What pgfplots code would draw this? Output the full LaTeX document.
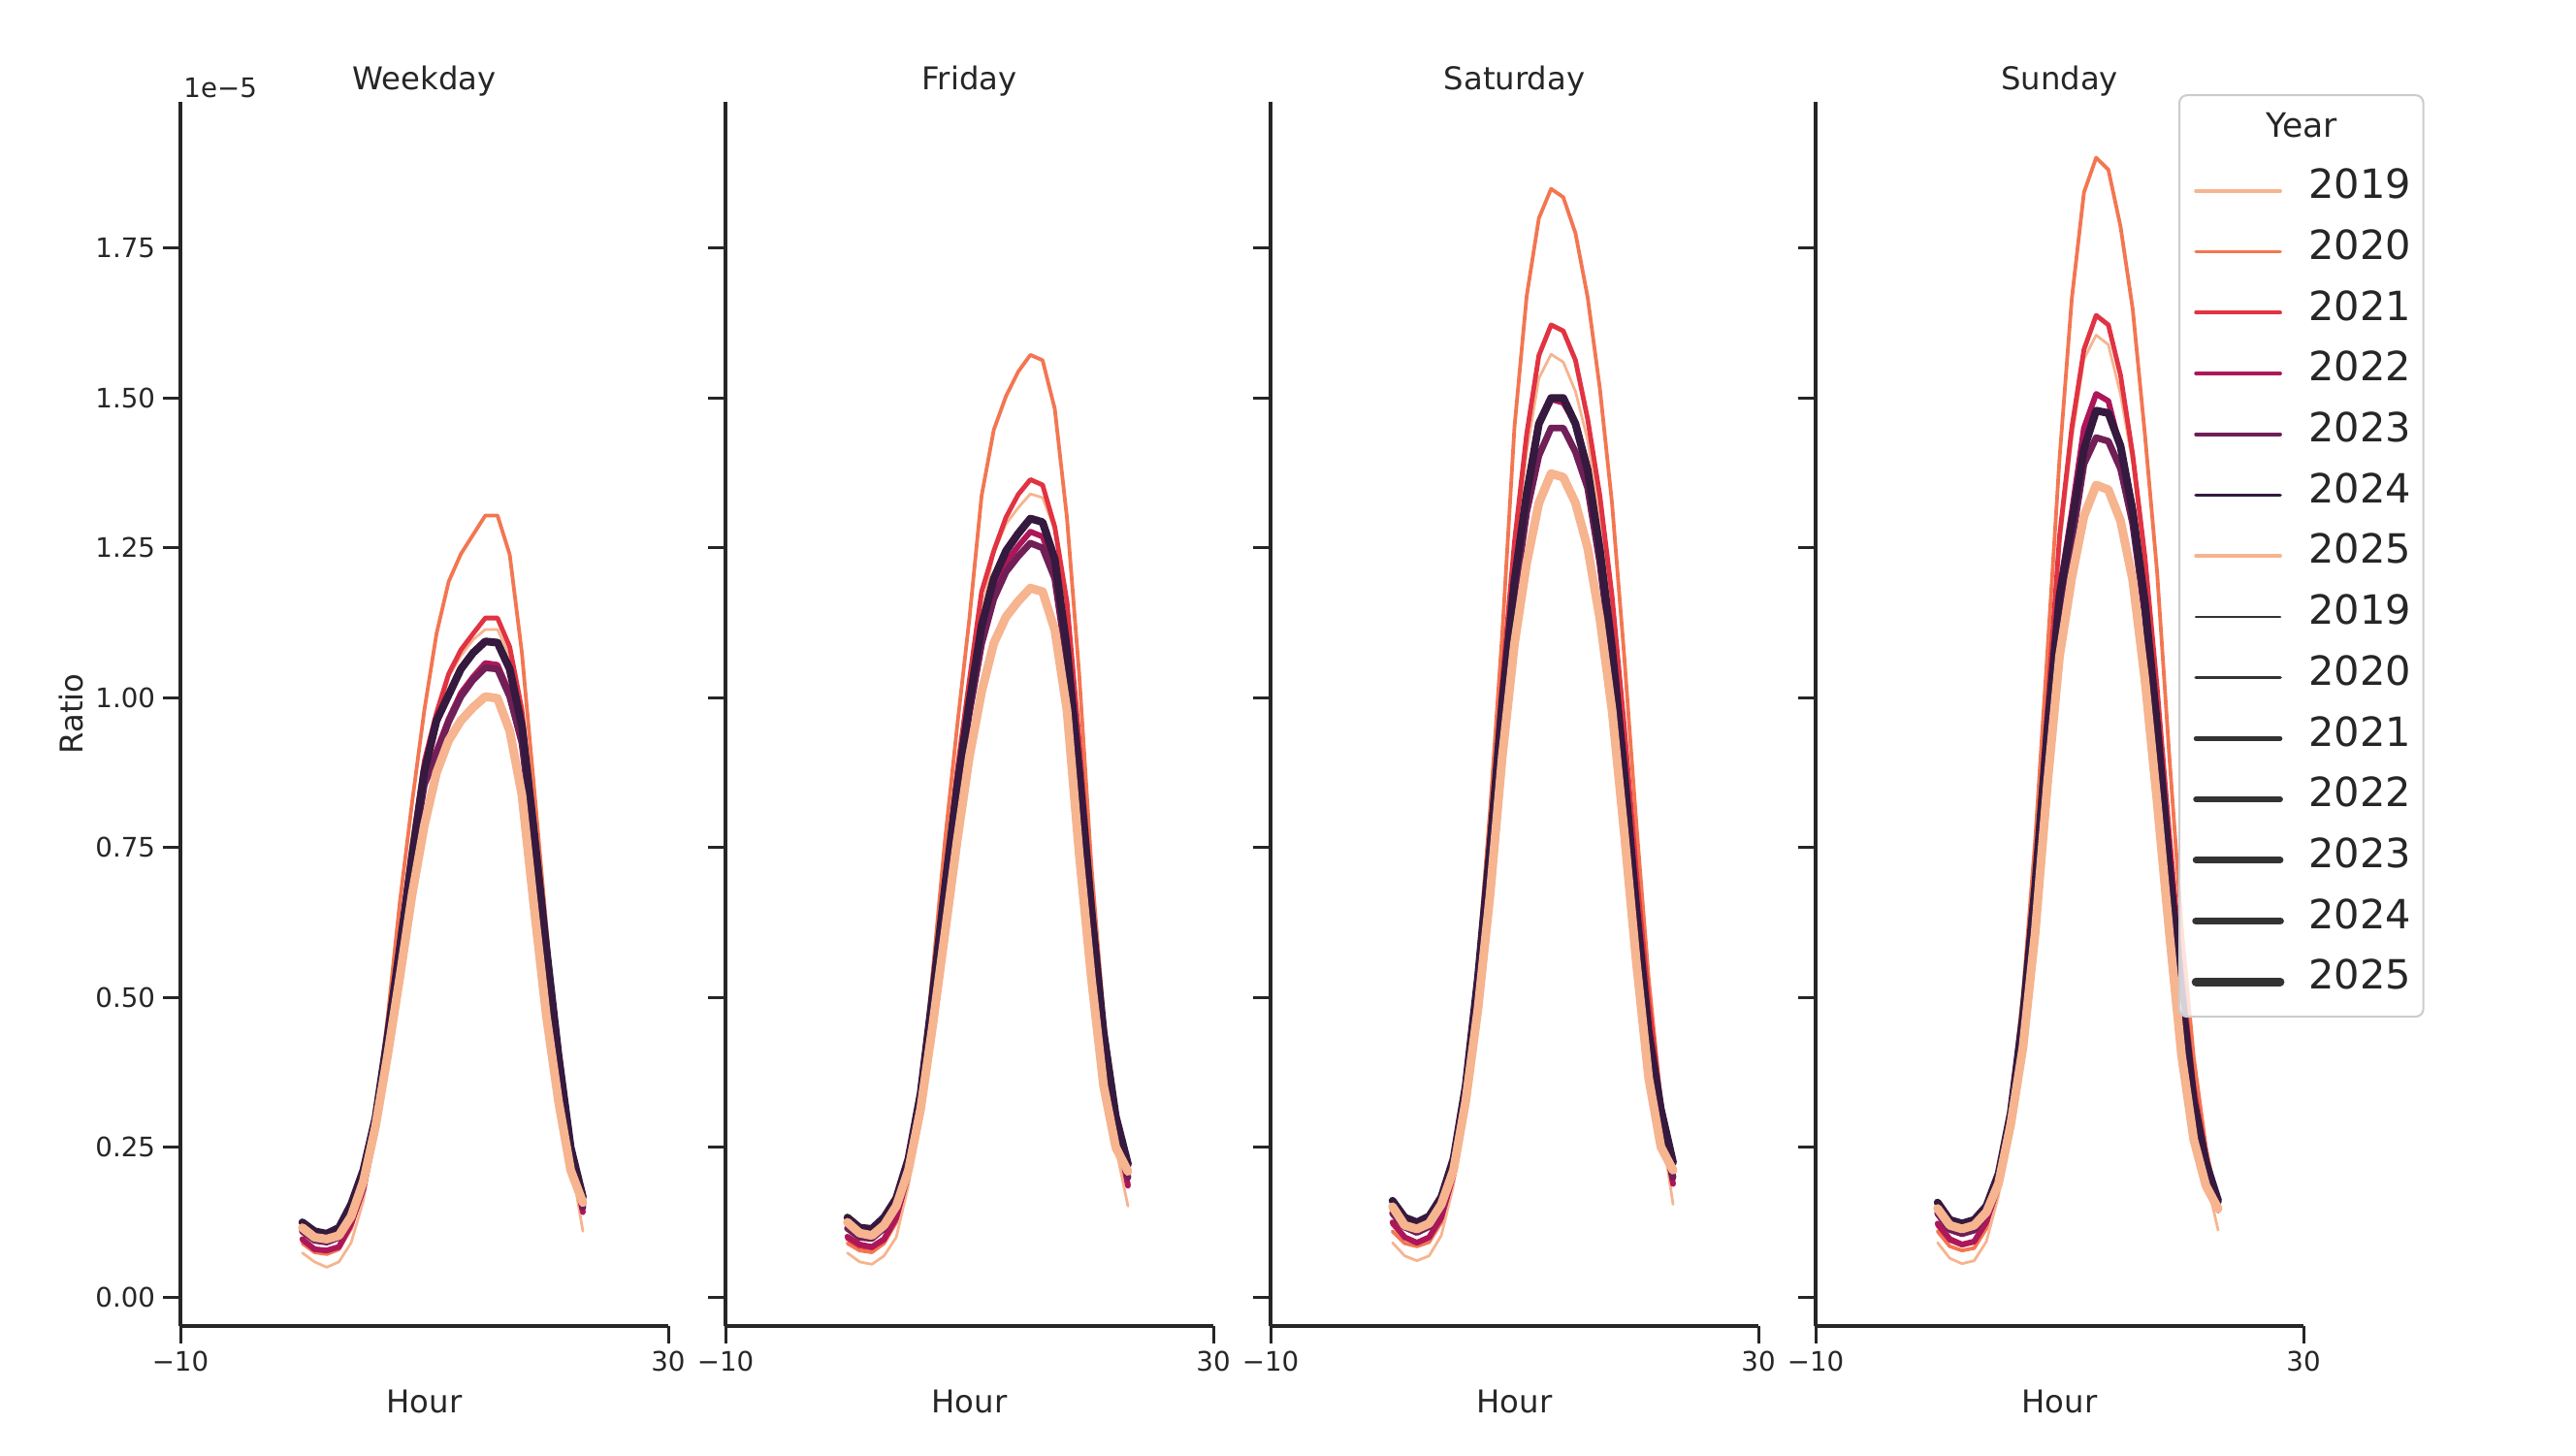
\documentclass[border=0pt]{standalone}
\usepackage{pgfplots}
\pgfplotsset{compat=1.18}
\usepackage{pgfplotstable}
\usepackage{fontspec}
\setmainfont{DejaVu Sans}
\definecolor{c19}{HTML}{F6B48F}
\definecolor{c20}{HTML}{F37651}
\definecolor{c21}{HTML}{E13342}
\definecolor{c22}{HTML}{AD1759}
\definecolor{c23}{HTML}{701F57}
\definecolor{c24}{HTML}{35193E}
\definecolor{c25}{HTML}{F6B48F}
\definecolor{ax}{HTML}{262626}
\definecolor{gl}{HTML}{333333}
\definecolor{lgray}{HTML}{CCCCCC}

\pgfplotstableread{
h y19 y20 y21 y22 y23 y24 y25
0 0.074 0.090 0.095 0.097 0.110 0.125 0.116
1 0.059 0.075 0.080 0.080 0.095 0.110 0.100
2 0.050 0.072 0.078 0.078 0.092 0.106 0.097
3 0.059 0.080 0.084 0.084 0.100 0.116 0.103
4 0.091 0.115 0.120 0.123 0.140 0.155 0.135
5 0.161 0.180 0.180 0.180 0.200 0.212 0.193
6 0.280 0.300 0.285 0.280 0.295 0.300 0.285
7 0.440 0.468 0.445 0.436 0.436 0.436 0.405
8 0.590 0.660 0.600 0.580 0.580 0.583 0.535
9 0.750 0.826 0.755 0.730 0.730 0.736 0.672
10 0.880 0.979 0.895 0.860 0.855 0.877 0.787
11 0.955 1.107 0.975 0.912 0.905 0.962 0.875
12 1.035 1.194 1.040 0.965 0.960 1.005 0.929
13 1.070 1.240 1.080 1.008 1.002 1.048 0.962
14 1.097 1.272 1.107 1.035 1.030 1.075 0.984
15 1.114 1.304 1.133 1.058 1.050 1.094 1.002
16 1.114 1.304 1.133 1.055 1.048 1.092 0.999
17 1.070 1.239 1.085 1.008 1.002 1.048 0.945
18 0.960 1.075 0.980 0.930 0.925 0.953 0.838
19 0.760 0.850 0.790 0.760 0.758 0.775 0.650
20 0.560 0.620 0.590 0.570 0.570 0.583 0.470
21 0.380 0.400 0.400 0.390 0.395 0.404 0.327
22 0.230 0.250 0.245 0.240 0.245 0.250 0.212
23 0.110 0.140 0.142 0.142 0.150 0.167 0.158
}\wkday

\pgfplotstableread{
h y19 y20 y21 y22 y23 y24 y25
0 0.074 0.090 0.098 0.101 0.115 0.133 0.125
1 0.059 0.078 0.085 0.088 0.100 0.116 0.107
2 0.055 0.075 0.082 0.084 0.098 0.114 0.103
3 0.069 0.090 0.095 0.097 0.115 0.133 0.120
4 0.100 0.125 0.130 0.133 0.150 0.165 0.152
5 0.187 0.205 0.205 0.206 0.220 0.231 0.212
6 0.310 0.340 0.320 0.315 0.325 0.340 0.314
7 0.490 0.545 0.505 0.495 0.495 0.506 0.455
8 0.670 0.762 0.700 0.675 0.675 0.685 0.608
9 0.845 0.953 0.880 0.840 0.840 0.851 0.762
10 0.990 1.132 1.030 0.980 0.975 0.992 0.902
11 1.140 1.337 1.177 1.100 1.090 1.120 1.010
12 1.242 1.447 1.245 1.175 1.165 1.199 1.091
13 1.290 1.503 1.301 1.226 1.210 1.245 1.135
14 1.317 1.544 1.339 1.253 1.236 1.274 1.161
15 1.340 1.572 1.364 1.277 1.258 1.299 1.183
16 1.334 1.563 1.355 1.269 1.250 1.293 1.177
17 1.280 1.482 1.285 1.215 1.199 1.231 1.113
18 1.140 1.300 1.160 1.070 1.060 1.081 0.979
19 0.900 1.040 0.930 0.870 0.860 0.877 0.740
20 0.640 0.720 0.670 0.640 0.635 0.647 0.532
21 0.410 0.470 0.440 0.430 0.430 0.442 0.353
22 0.250 0.300 0.290 0.290 0.295 0.302 0.250
23 0.152 0.190 0.190 0.186 0.200 0.222 0.210
}\friday

\pgfplotstableread{
h y19 y20 y21 y22 y23 y24 y25
0 0.091 0.110 0.122 0.125 0.140 0.161 0.151
1 0.069 0.090 0.100 0.100 0.117 0.133 0.120
2 0.061 0.085 0.091 0.091 0.108 0.125 0.114
3 0.069 0.092 0.100 0.100 0.118 0.135 0.123
4 0.103 0.125 0.133 0.133 0.150 0.167 0.155
5 0.187 0.210 0.205 0.205 0.220 0.231 0.212
6 0.320 0.355 0.335 0.330 0.340 0.353 0.327
7 0.515 0.557 0.530 0.515 0.515 0.532 0.480
8 0.750 0.813 0.765 0.740 0.735 0.749 0.672
9 1.010 1.107 1.030 0.985 0.975 0.992 0.902
10 1.230 1.452 1.260 1.190 1.165 1.195 1.090
11 1.410 1.670 1.440 1.345 1.310 1.340 1.225
12 1.533 1.800 1.571 1.457 1.404 1.457 1.325
13 1.573 1.849 1.622 1.498 1.450 1.500 1.374
14 1.560 1.835 1.612 1.492 1.450 1.500 1.368
15 1.511 1.775 1.563 1.457 1.410 1.457 1.325
16 1.430 1.668 1.465 1.380 1.350 1.380 1.250
17 1.300 1.516 1.337 1.247 1.225 1.247 1.132
18 1.130 1.324 1.170 1.075 1.060 1.082 0.979
19 0.920 1.069 0.953 0.870 0.860 0.877 0.775
20 0.680 0.788 0.710 0.640 0.635 0.647 0.557
21 0.460 0.532 0.493 0.435 0.435 0.442 0.366
22 0.290 0.327 0.327 0.300 0.305 0.314 0.251
23 0.155 0.190 0.190 0.189 0.200 0.225 0.212
}\saturday

\pgfplotstableread{
h y19 y20 y21 y22 y23 y24 y25
0 0.091 0.110 0.120 0.123 0.140 0.158 0.148
1 0.065 0.085 0.095 0.097 0.113 0.129 0.120
2 0.056 0.078 0.087 0.088 0.106 0.123 0.114
3 0.061 0.082 0.092 0.093 0.112 0.129 0.120
4 0.093 0.115 0.124 0.126 0.140 0.152 0.142
5 0.170 0.195 0.186 0.186 0.198 0.206 0.190
6 0.290 0.320 0.300 0.295 0.300 0.308 0.289
7 0.450 0.506 0.470 0.455 0.455 0.468 0.417
8 0.680 0.762 0.700 0.675 0.670 0.685 0.608
9 0.960 1.075 0.985 0.940 0.925 0.945 0.855
10 1.250 1.400 1.270 1.180 1.140 1.170 1.070
11 1.430 1.665 1.450 1.310 1.260 1.290 1.200
12 1.565 1.843 1.581 1.450 1.390 1.415 1.303
13 1.605 1.901 1.638 1.507 1.434 1.479 1.355
14 1.589 1.881 1.622 1.495 1.428 1.475 1.347
15 1.506 1.786 1.538 1.414 1.382 1.420 1.295
16 1.390 1.648 1.405 1.320 1.290 1.310 1.196
17 1.215 1.439 1.235 1.160 1.140 1.158 1.030
18 1.000 1.209 1.017 0.950 0.935 0.953 0.826
19 0.760 0.902 0.775 0.715 0.705 0.720 0.608
20 0.520 0.620 0.545 0.500 0.495 0.506 0.404
21 0.320 0.400 0.353 0.320 0.320 0.327 0.263
22 0.200 0.250 0.238 0.215 0.218 0.225 0.186
23 0.112 0.150 0.145 0.145 0.150 0.161 0.148
}\sunday

\newcommand{\sevenlines}[1]{%
  \addplot[c19, line width=1.2pt, forget plot] table[x=h,y=y19]{#1};
  \addplot[c20, line width=1.65pt, forget plot] table[x=h,y=y20]{#1};
  \addplot[c21, line width=2.1pt, forget plot] table[x=h,y=y21]{#1};
  \addplot[c22, line width=2.55pt, forget plot] table[x=h,y=y22]{#1};
  \addplot[c23, line width=3.0pt, forget plot] table[x=h,y=y23]{#1};
  \addplot[c24, line width=3.45pt, forget plot] table[x=h,y=y24]{#1};
  \addplot[c25, line width=3.9pt, forget plot] table[x=h,y=y25]{#1};
}

\pgfplotsset{
  panel/.style={
    at={(#1,57.68pt)}, anchor=south west,
    scale only axis, width=218.15pt, height=547.3pt,
    xmin=-10, xmax=30, ymin=-0.048, ymax=1.994,
    clip=false,
    axis lines=left,
    axis line style={-, line width=1.7pt, color=ax},
    xtick={-10,30}, xticklabels={−10,30},
    ytick={0,0.25,0.5,0.75,1,1.25,1.5,1.75},
    tick align=outside,
    major tick length=7.7pt,
    tick style={line width=1.3pt, color=ax},
    ticklabel style={font=\fontsize{12}{14}\selectfont, text=ax},
    /pgf/number format/assume math mode=true,
    xlabel={Hour},
    xlabel style={at={(axis description cs:0.5,-0.0618)}, anchor=center, font=\fontsize{14}{17}\selectfont, text=ax},
    title style={at={(axis description cs:0.5,0.9988)}, anchor=base, yshift=0pt, font=\fontsize{14}{17}\selectfont, text=ax, inner sep=0pt},
    every axis plot/.append style={line join=round, line cap=round, no markers},
  }
}

\begin{document}
\begin{tikzpicture}
\useasboundingbox (0pt,0pt) rectangle (1151.9pt,650.55pt);

\begin{axis}[panel=80.67pt, title={Weekday},
  yticklabels={0.00,0.25,0.50,0.75,1.00,1.25,1.50,1.75},
  ylabel={Ratio},
  ylabel style={at={(axis description cs:-0.2247,0.5)}, anchor=center, font=\fontsize{14}{17}\selectfont, text=ax}]
\sevenlines{\wkday}
\node[anchor=base west, font=\fontsize{12}{14}\selectfont, text=ax, inner sep=0pt] at (axis description cs:0.006,1.004) {1e−5};
\end{axis}

\begin{axis}[panel=324.41pt, title={Friday}, yticklabels={}]
\sevenlines{\friday}
\end{axis}

\begin{axis}[panel=568.15pt, title={Saturday}, yticklabels={}]
\sevenlines{\saturday}
\end{axis}

\begin{axis}[panel=811.89pt, title={Sunday}, yticklabels={},
  legend cell align=left,
  legend image code/.code={\draw[#1] (0pt,0pt) -- (37.7pt,0pt);},
  legend style={at={(axis description cs:0.7435,1.0063)}, anchor=north west,
    draw=lgray, line width=0.9pt, rounded corners=3.5pt,
    fill=white, fill opacity=0.8, draw opacity=1, text opacity=1,
    font=\fontsize{18}{21.6}\selectfont, text=ax,
    inner xsep=5.5pt, inner ysep=2pt, column sep=10.8pt, row sep=0pt,
    nodes={inner sep=0pt, text height=17pt, text depth=10.2pt}}]
\sevenlines{\sunday}
\addlegendimage{empty legend}\addlegendentry{\fontsize{15}{18}\selectfont\hspace*{-19pt}Year}
\addlegendimage{c19, line width=1.6pt}\addlegendentry{2019}
\addlegendimage{c20, line width=1.6pt}\addlegendentry{2020}
\addlegendimage{c21, line width=1.6pt}\addlegendentry{2021}
\addlegendimage{c22, line width=1.6pt}\addlegendentry{2022}
\addlegendimage{c23, line width=1.6pt}\addlegendentry{2023}
\addlegendimage{c24, line width=1.6pt}\addlegendentry{2024}
\addlegendimage{c25, line width=1.6pt}\addlegendentry{2025}
\addlegendimage{gl, line width=1.1pt}\addlegendentry{2019}
\addlegendimage{gl, line width=1.55pt}\addlegendentry{2020}
\addlegendimage{gl, line width=2.0pt}\addlegendentry{2021}
\addlegendimage{gl, line width=2.45pt}\addlegendentry{2022}
\addlegendimage{gl, line width=2.9pt}\addlegendentry{2023}
\addlegendimage{gl, line width=3.35pt}\addlegendentry{2024}
\addlegendimage{gl, line width=3.8pt}\addlegendentry{2025}
\end{axis}
\end{tikzpicture}
\end{document}
